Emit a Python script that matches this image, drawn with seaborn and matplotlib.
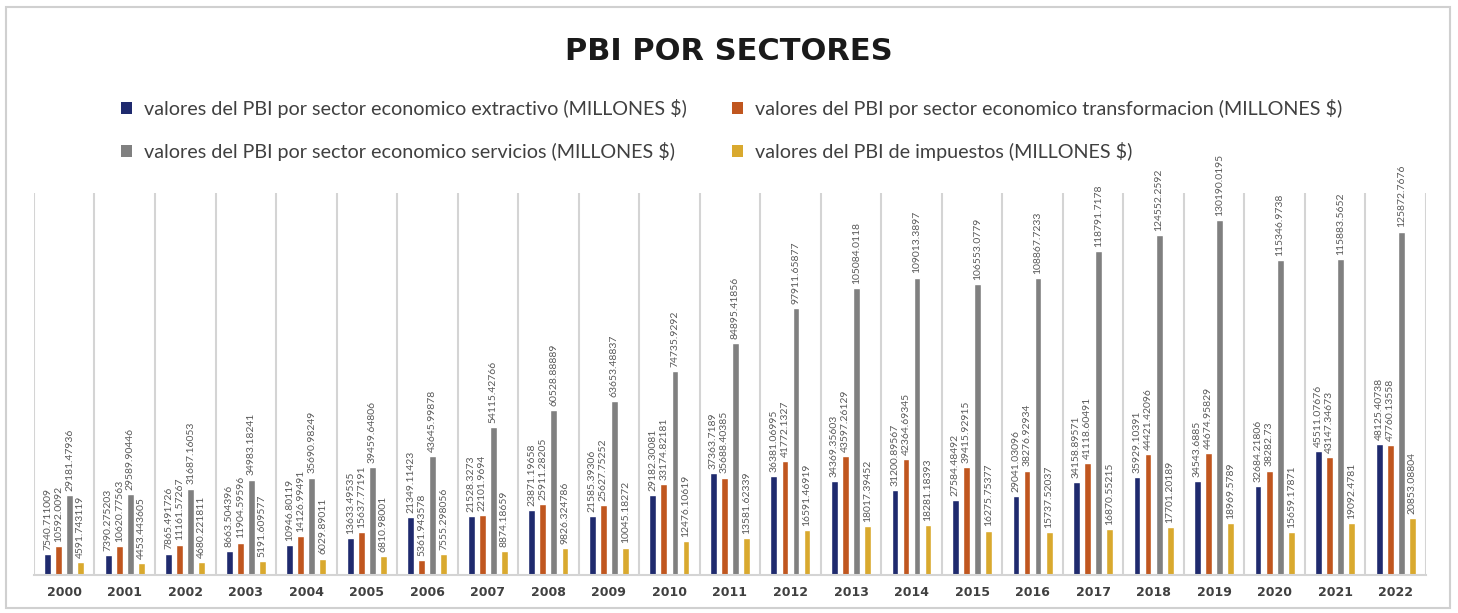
import numpy as np
import pandas as pd
import matplotlib
matplotlib.use("Agg")
import matplotlib.pyplot as plt
from matplotlib.patches import Rectangle, Patch
import seaborn as sns

# Data (MILLONES $)
years = [str(y) for y in range(2000, 2023)]

extractivo = [7540.711009, 7390.275203, 7865.491726, 8663.504396, 10946.80119,
              13633.49535, 21349.11423, 21528.3273, 23871.19658, 21585.39306,
              29182.30081, 37363.7189, 36381.06995, 34369.35603, 31200.89567,
              27584.48492, 29041.03096, 34158.89571, 35929.10391, 34543.6885,
              32684.21806, 45511.07676, 48125.40738]
transformacion = [10592.0092, 10620.77563, 11161.57267, 11904.59596, 14126.99491,
                  15637.77191, 5361.943578, 22101.9694, 25911.28205, 25627.75252,
                  33174.82181, 35688.40385, 41772.1327, 43597.26129, 42364.69345,
                  39415.92915, 38276.92934, 41118.60491, 44421.42096, 44674.95829,
                  38282.73, 43147.34673, 47760.13558]
servicios = [29181.47936, 29589.90446, 31687.16053, 34983.18241, 35690.98249,
             39459.64806, 43645.99878, 54115.42766, 60528.88889, 63653.48837,
             74735.9292, 84895.41856, 97911.65877, 105084.0118, 109013.3897,
             106553.0779, 108867.7233, 118791.7178, 124552.2592, 130190.0195,
             115346.9738, 115883.5652, 125872.7676]
impuestos = [4591.743119, 4453.443605, 4680.221811, 5191.609577, 6029.89011,
             6810.98001, 7555.298056, 8874.18659, 9826.324786, 10045.18272,
             12476.10619, 13581.62339, 16591.46919, 18017.39452, 18281.18393,
             16275.75377, 15737.52037, 16870.55215, 17701.20189, 18969.5789,
             15659.17871, 19092.4781, 20853.08804]

series_names = [
    "valores del PBI por sector economico extractivo (MILLONES $)",
    "valores del PBI por sector economico transformacion (MILLONES $)",
    "valores del PBI por sector economico servicios (MILLONES $)",
    "valores del PBI de impuestos (MILLONES $)",
]
colors = ["#1f2a6e", "#c0561f", "#808080", "#d9a92e"]

frames = []
for name, vals in zip(series_names, [extractivo, transformacion, servicios, impuestos]):
    frames.append(pd.DataFrame({"Año": years, "Serie": name, "Valor": vals}))
df = pd.concat(frames, ignore_index=True)

sns.set_theme(style="white")
plt.rcParams["font.family"] = ["Lato", "DejaVu Sans"]

fig = plt.figure(figsize=(14.58, 6.13), dpi=100)
ax = fig.add_axes([0.0233, 0.062, 0.9547, 0.623])

sns.barplot(data=df, x="Año", y="Valor", hue="Serie", hue_order=series_names,
            palette=colors, width=0.73, gap=0.38, saturation=1,
            errorbar=None, legend=False, ax=ax)

# value labels above each bar, rotated
for container in ax.containers:
    vals = [bar.get_height() for bar in container]
    ax.bar_label(container, labels=[str(v) for v in vals], rotation=90,
                 padding=3, fontsize=7.5, color="#595959")

ax.set_ylim(0, 140000)
ax.set_xlim(-0.5, 22.5)
ax.set_yticks([])
ax.set_ylabel("")
ax.set_xlabel("")
ax.set_xticks(np.arange(-0.5, 23, 1), minor=True)
ax.grid(axis="x", which="minor", color="#d4d4d4", linewidth=1.5)
ax.grid(axis="x", which="major", visible=False)
ax.tick_params(axis="x", which="both", length=0, pad=8)
for lbl in ax.get_xticklabels():
    lbl.set_fontweight("bold")
    lbl.set_fontsize(9)
    lbl.set_family(["DejaVu Sans"])
    lbl.set_color("#404040")
for side in ["top", "left", "right"]:
    ax.spines[side].set_visible(False)
ax.spines["bottom"].set_color("#d4d4d4")
ax.spines["bottom"].set_linewidth(1.5)

fig.text(0.5, 0.916, "PBI POR SECTORES", ha="center", va="center",
         fontsize=22, fontweight="bold", color="#1a1a1a",
         family=["DejaVu Sans"])

handles = [Patch(facecolor=c, edgecolor="none") for c in colors]
order = [0, 2, 1, 3]
fig.legend([handles[i] for i in order], [series_names[i] for i in order],
           ncol=2, loc="center", bbox_to_anchor=(0.502, 0.788), frameon=False,
           fontsize=14.2, handlelength=0.55, handleheight=0.55, handletextpad=0.6,
           labelspacing=1.24, columnspacing=2.3, labelcolor="#404040")

# light frame around the whole chart
fig.patches.append(Rectangle((6 / 1458, 5 / 613), 1444 / 1458, 601 / 613,
                             transform=fig.transFigure, fill=False,
                             edgecolor="#d0d0d0", linewidth=1.5))

fig.savefig("out.png", dpi=100, facecolor="white")
